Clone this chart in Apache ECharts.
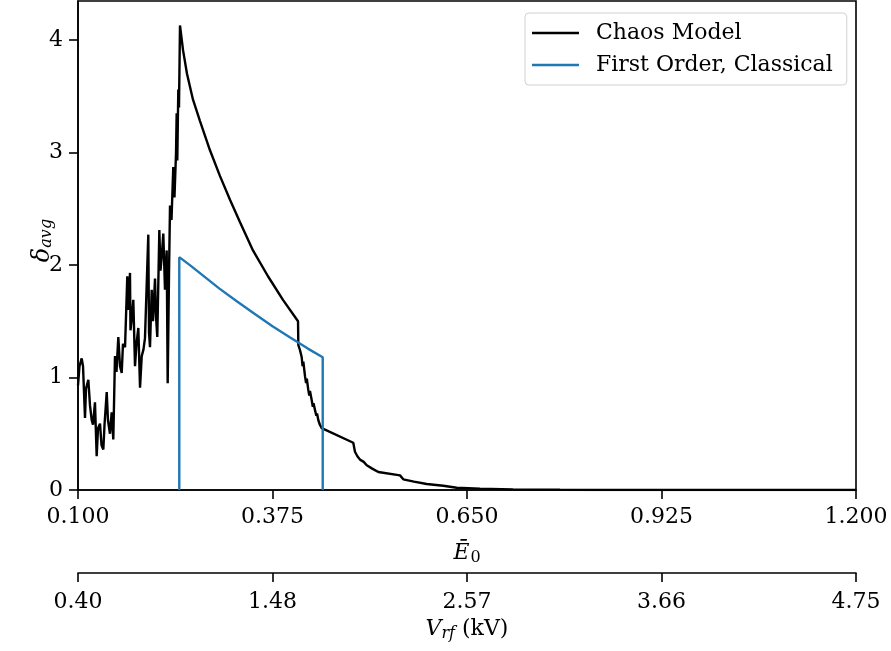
<!DOCTYPE html>
<html>
<head>
<meta charset="utf-8">
<script src="https://cdn.jsdelivr.net/npm/echarts@6/dist/echarts.min.js"></script>
<style>
  html, body { margin: 0; padding: 0; background: #fff; }
  #main { width: 891px; height: 651px; }
</style>
</head>
<body>
<div id="main"></div>
<script>
// tick positions on the E0 axis and the matching Vrf labels
var eTicks = [0.1, 0.375, 0.65, 0.925, 1.2];
var vrfLabels = ['0.40', '1.48', '2.57', '3.66', '4.75'];
var deltaTicks = [0, 1, 2, 3, 4];

// Chaos Model curve
var chaosE = [
  0.1000, 0.1021, 0.1052, 0.1071, 0.1099, 0.1113, 0.1146, 0.1170, 0.1194, 0.1212,
  0.1240, 0.1264, 0.1283, 0.1311, 0.1332, 0.1358, 0.1375, 0.1406, 0.1424, 0.1452,
  0.1476, 0.1499, 0.1523, 0.1544, 0.1570, 0.1594, 0.1618, 0.1636, 0.1665, 0.1697,
  0.1714, 0.1735, 0.1742, 0.1764, 0.1782, 0.1806, 0.1827, 0.1853, 0.1877, 0.1901,
  0.1926, 0.1947, 0.1994, 0.2004, 0.2018, 0.2042, 0.2060, 0.2089, 0.2103, 0.2121,
  0.2150, 0.2166, 0.2183, 0.2206, 0.2230, 0.2254, 0.2268, 0.2287, 0.2301, 0.2322,
  0.2347, 0.2364, 0.2386, 0.2395, 0.2404, 0.2418, 0.2428, 0.2442,
  0.2485, 0.2541, 0.2626, 0.2725, 0.2866, 0.3008, 0.3149, 0.3291, 0.3474, 0.3686,
  0.3898, 0.4111,
  0.4115, 0.4140, 0.4163, 0.4175, 0.4186, 0.4210, 0.4225, 0.4235, 0.4256, 0.4270,
  0.4280, 0.4304, 0.4320, 0.4330, 0.4351, 0.4370, 0.4380, 0.4398, 0.4420, 0.4446,
  0.4892, 0.4916, 0.4950, 0.4987, 0.5040, 0.5082, 0.5160, 0.5246, 0.5553, 0.5599,
  0.5750, 0.5930, 0.6165, 0.6354, 0.6684, 0.7150, 0.7815, 0.8380, 1.0, 1.2
];
var chaosDelta = [
  0.93, 1.10, 1.17, 1.10, 0.64, 0.90, 0.98, 0.75, 0.62, 0.58,
  0.78, 0.30, 0.55, 0.59, 0.40, 0.36, 0.58, 0.87, 0.62, 0.50,
  0.69, 0.45, 1.19, 1.05, 1.36, 1.10, 1.04, 1.30, 1.27, 1.90,
  1.60, 1.93, 1.42, 1.55, 1.69, 1.10, 1.30, 1.44, 0.91, 1.19,
  1.25, 1.35, 2.27, 1.40, 1.27, 1.78, 1.50, 1.88, 1.54, 1.36,
  2.31, 1.95, 2.07, 2.28, 1.78, 2.13, 0.95, 1.93, 2.53, 2.40,
  2.87, 2.60, 3.00, 3.35, 2.93, 3.56, 3.40, 4.13,
  3.91, 3.70, 3.47, 3.28, 3.02, 2.79, 2.58, 2.38, 2.13, 1.90,
  1.69, 1.50,
  1.29, 1.24, 1.18, 1.10, 1.14, 1.01, 0.95, 0.99, 0.89, 0.84,
  0.88, 0.80, 0.74, 0.77, 0.71, 0.66, 0.68, 0.62, 0.58, 0.55,
  0.42, 0.34, 0.30, 0.27, 0.25, 0.22, 0.19, 0.16, 0.13, 0.095,
  0.075, 0.053, 0.038, 0.02, 0.012, 0.006, 0.002, 0, 0, 0
];

// First Order, Classical curve
var classicalE = [0.2432, 0.2432, 0.26, 0.28, 0.30, 0.325, 0.35, 0.375, 0.40, 0.425, 0.446, 0.446];
var classicalDelta = [0, 2.07, 1.99, 1.89, 1.79, 1.675, 1.565, 1.455, 1.355, 1.257, 1.18, 0];

function zip(xs, ys) {
  return xs.map(function (x, i) { return [x, ys[i]]; });
}

var font = 'DejaVu Serif';
var fs = 22;
var sub = 16;

var chart = echarts.init(document.getElementById('main'));
chart.setOption({
  animation: false,
  textStyle: { fontFamily: font, color: '#000' },
  grid: {
    left: 78, right: 35, top: 1, bottom: 161,
    show: true, borderColor: '#000', borderWidth: 1.6, backgroundColor: 'transparent'
  },
  legend: {
    orient: 'vertical',
    left: 525, top: 13,
    padding: [9, 14, 9, 7],
    itemWidth: 47, itemHeight: 2.4, itemGap: 10,
    icon: 'rect',
    borderColor: '#d0d0d0', borderWidth: 1, borderRadius: 4,
    textStyle: { fontFamily: font, fontSize: fs, color: '#000', lineHeight: 21, padding: [0, 0, 0, 12] },
    data: ['Chaos Model', 'First Order, Classical']
  },
  xAxis: [
    {
      type: 'value', min: 0.1, max: 1.2, position: 'bottom',
      name: '{e|E\u0304}{s|0}', nameLocation: 'middle', nameGap: 51,
      nameTextStyle: {
        rich: {
          e: { fontFamily: font, fontStyle: 'italic', fontSize: fs, color: '#000' },
          s: { fontFamily: font, fontSize: sub, color: '#000', verticalAlign: 'bottom', padding: [9, 0, 0, 1] }
        }
      },
      axisLine: { lineStyle: { color: '#000', width: 1.6 } },
      axisTick: { length: 9, lineStyle: { color: '#000', width: 1.6 }, customValues: eTicks },
      axisLabel: {
        customValues: eTicks, margin: 16, fontFamily: font, fontSize: fs, color: '#000',
        formatter: function (v) { return v.toFixed(3); }
      },
      splitLine: { show: false }
    },
    {
      type: 'value', min: 0.1, max: 1.2, position: 'bottom', offset: 83,
      name: '{v|V}{s|rf}{t| (kV)}', nameLocation: 'middle', nameGap: 44,
      nameTextStyle: {
        rich: {
          v: { fontFamily: font, fontStyle: 'italic', fontSize: fs, color: '#000' },
          s: { fontFamily: font, fontStyle: 'italic', fontSize: sub, color: '#000', verticalAlign: 'bottom', padding: [9, 0, 0, 0] },
          t: { fontFamily: font, fontSize: fs, color: '#000' }
        }
      },
      axisLine: { lineStyle: { color: '#000', width: 1.6 } },
      axisTick: { length: 9, lineStyle: { color: '#000', width: 1.6 }, customValues: eTicks },
      axisLabel: {
        customValues: eTicks, margin: 18, fontFamily: font, fontSize: fs, color: '#000',
        formatter: function (v) {
          for (var i = 0; i < eTicks.length; i++) {
            if (Math.abs(eTicks[i] - v) < 1e-6) return vrfLabels[i];
          }
          return '';
        }
      },
      splitLine: { show: false }
    }
  ],
  yAxis: {
    type: 'value', min: 0, max: 4.347,
    name: '{d|\u03b4}{s|avg}', nameLocation: 'middle', nameGap: 23, nameRotate: 90,
    nameMoveOverlap: false,
    nameTextStyle: {
      padding: [0, 0, 0, 10],
      rich: {
        d: { fontFamily: font, fontStyle: 'italic', fontSize: 24, color: '#000' },
        s: { fontFamily: font, fontStyle: 'italic', fontSize: sub, color: '#000', verticalAlign: 'bottom', padding: [9, 0, 0, 0] }
      }
    },
    axisLine: { show: true, lineStyle: { color: '#000', width: 1.6 } },
    axisTick: { show: true, length: 9, lineStyle: { color: '#000', width: 1.6 }, customValues: deltaTicks },
    axisLabel: { customValues: deltaTicks, margin: 15, fontFamily: font, fontSize: fs, color: '#000' },
    splitLine: { show: false }
  },
  series: [
    {
      name: 'Chaos Model', type: 'line', xAxisIndex: 0,
      data: zip(chaosE, chaosDelta),
      symbol: 'none', showSymbol: false,
      lineStyle: { color: '#000', width: 2.4 }, itemStyle: { color: '#000' }
    },
    {
      name: 'First Order, Classical', type: 'line', xAxisIndex: 0,
      data: zip(classicalE, classicalDelta),
      symbol: 'none', showSymbol: false,
      lineStyle: { color: '#1f77b4', width: 2.4 }, itemStyle: { color: '#1f77b4' }
    }
  ]
});
</script>
</body>
</html>
